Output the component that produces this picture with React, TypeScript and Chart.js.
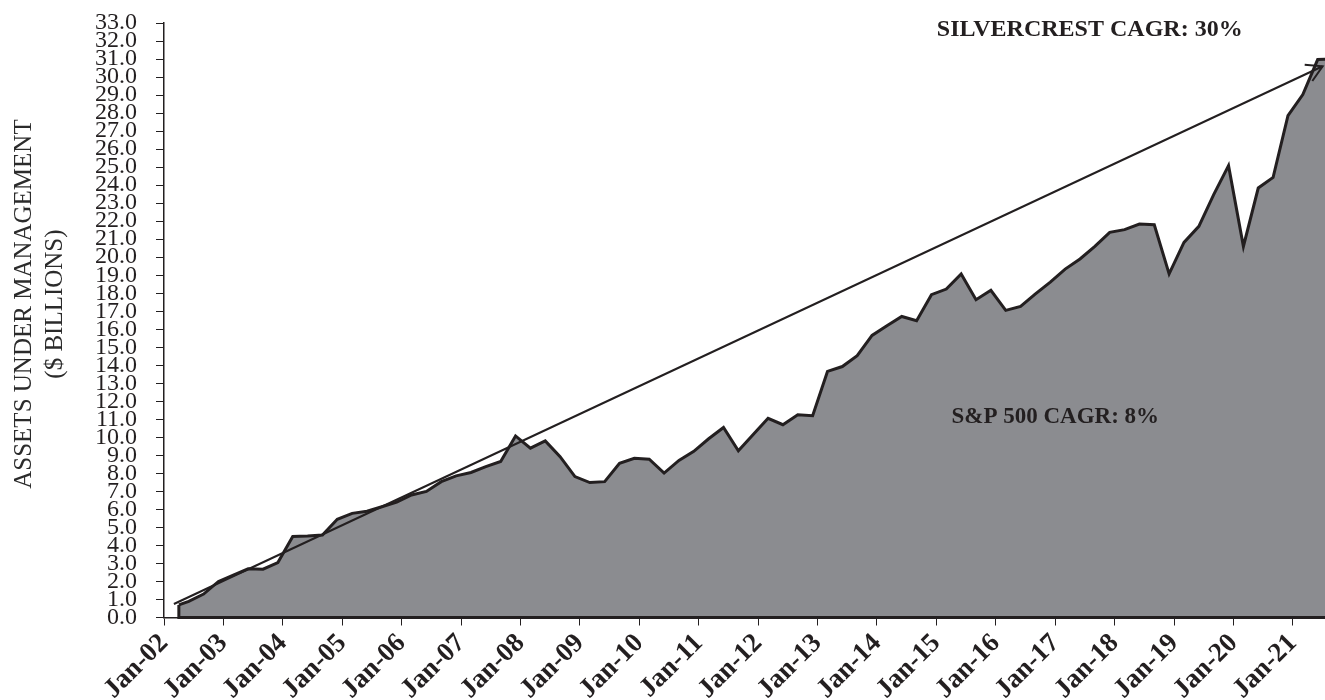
import React, { useEffect, useRef } from "react";
import { Chart, registerables } from "chart.js";

Chart.register(...registerables);

// Quarter-end observations (plotted at month position on a date axis)
const QUARTERS = [
  "2002-04", "2002-06", "2002-09", "2002-12",
  "2003-03", "2003-06", "2003-09", "2003-12",
  "2004-03", "2004-06", "2004-09", "2004-12",
  "2005-03", "2005-06", "2005-09", "2005-12",
  "2006-03", "2006-06", "2006-09", "2006-12",
  "2007-03", "2007-06", "2007-09", "2007-12",
  "2008-03", "2008-06", "2008-09", "2008-12",
  "2009-03", "2009-06", "2009-09", "2009-12",
  "2010-03", "2010-06", "2010-09", "2010-12",
  "2011-03", "2011-06", "2011-09", "2011-12",
  "2012-03", "2012-06", "2012-09", "2012-12",
  "2013-03", "2013-06", "2013-09", "2013-12",
  "2014-03", "2014-06", "2014-09", "2014-12",
  "2015-03", "2015-06", "2015-09", "2015-12",
  "2016-03", "2016-06", "2016-09", "2016-12",
  "2017-03", "2017-06", "2017-09", "2017-12",
  "2018-03", "2018-06", "2018-09", "2018-12",
  "2019-03", "2019-06", "2019-09", "2019-12",
  "2020-03", "2020-06", "2020-09", "2020-12",
  "2021-03", "2021-06", "2021-09",
];

// Assets under management, $ billions
const AUM = [
  0.7, 0.9, 1.3, 2.0,
  2.35, 2.7, 2.68, 3.05,
  4.5, 4.52, 4.58, 5.45,
  5.78, 5.9, 6.15, 6.4,
  6.8, 7.0, 7.54, 7.86,
  8.05, 8.38, 8.66, 10.08,
  9.4, 9.8, 8.93, 7.82,
  7.49, 7.54, 8.56, 8.84,
  8.79, 8.02, 8.72, 9.22,
  9.92, 10.55, 9.25, 10.16,
  11.06, 10.7, 11.25, 11.2,
  13.66, 13.93, 14.53, 15.66,
  16.2, 16.71, 16.47, 17.92,
  18.23, 19.07, 17.64, 18.16,
  17.05, 17.27, 17.96, 18.62,
  19.34, 19.9, 20.6, 21.38,
  21.53, 21.84, 21.8, 19.07,
  20.82, 21.71, 23.47, 25.08,
  20.6, 23.84, 24.43, 27.86,
  29.03, 30.97, 31.0,
];

// Silvercrest CAGR trend arrow (start / end)
const TREND_DATES = ["2002-03", "2021-07"];
const TREND_VALUES = [0.75, 30.6];

const X_TICK_LABELS = [
  "Jan-02", "Jan-03", "Jan-04", "Jan-05", "Jan-06", "Jan-07", "Jan-08",
  "Jan-09", "Jan-10", "Jan-11", "Jan-12", "Jan-13", "Jan-14", "Jan-15",
  "Jan-16", "Jan-17", "Jan-18", "Jan-19", "Jan-20", "Jan-21",
];

const Y_MIN = 0;
const Y_MAX = 33;
const Y_STEP = 1;

const TITLE_LINES = ["ASSETS UNDER MANAGEMENT", "($ BILLIONS)"];
const NOTE_SILVERCREST = "SILVERCREST CAGR: 30%";
const NOTE_SP500 = "S&P 500 CAGR: 8%";

const toYears = (d: string) => {
  const [y, m] = d.split("-").map(Number);
  return y - 2002 + (m - 1) / 12;
};

export default function App() {
  const ref = useRef<HTMLCanvasElement>(null);

  useEffect(() => {
    const canvas = ref.current;
    if (!canvas) return;
    const ink = "#231f20";
    const serif = "'Liberation Serif', 'Times New Roman', serif";

    const edgePlugin = {
      id: "areaEdge",
      afterDatasetDraw(chart: any, args: any) {
        if (args.index !== 0) return;
        const p = args.meta.data[0];
        const { ctx, chartArea } = chart;
        const y0 = chart.scales.y.getPixelForValue(0);
        ctx.save();
        ctx.strokeStyle = ink;
        ctx.lineWidth = 3;
        ctx.beginPath();
        ctx.moveTo(p.x, p.y);
        ctx.lineTo(p.x, y0);
        ctx.lineTo(chartArea.right, y0);
        ctx.stroke();
        ctx.restore();
      },
    };

    const arrowPlugin = {
      id: "trendArrow",
      afterDatasetsDraw(chart: any) {
        const pts = chart.getDatasetMeta(1).data;
        const a = pts[pts.length - 2];
        const b = pts[pts.length - 1];
        const ang = Math.atan2(b.y - a.y, b.x - a.x);
        const len = 18;
        const spread = Math.PI / 6;
        const { ctx } = chart;
        ctx.save();
        ctx.strokeStyle = ink;
        ctx.lineWidth = 2;
        ctx.beginPath();
        ctx.moveTo(b.x - len * Math.cos(ang - spread), b.y - len * Math.sin(ang - spread));
        ctx.lineTo(b.x, b.y);
        ctx.lineTo(b.x - len * Math.cos(ang + spread), b.y - len * Math.sin(ang + spread));
        ctx.stroke();
        ctx.restore();
      },
    };

    const textPlugin = {
      id: "texts",
      afterDraw(chart: any) {
        const { ctx } = chart;
        const xs = chart.scales.x;
        const ys = chart.scales.y;
        ctx.save();
        ctx.fillStyle = ink;
        ctx.textAlign = "center";
        ctx.textBaseline = "middle";
        ctx.font = `bold 24px ${serif}`;
        ctx.fillText(NOTE_SILVERCREST, xs.getPixelForValue(15.58), ys.getPixelForValue(32.6));
        ctx.font = `bold 23px ${serif}`;
        ctx.fillText(NOTE_SP500, xs.getPixelForValue(15.0), ys.getPixelForValue(11.15));
        ctx.font = `25px ${serif}`;
        ctx.fillStyle = "#2b2b2b";
        const cy = ys.getPixelForValue(17.4);
        [24, 55].forEach((x, i) => {
          ctx.save();
          ctx.translate(x, cy);
          ctx.rotate(-Math.PI / 2);
          ctx.fillText(TITLE_LINES[i], 0, 0);
          ctx.restore();
        });
        ctx.restore();
      },
    };

    const chart = new Chart(canvas, {
      type: "line",
      data: {
        datasets: [
          {
            data: QUARTERS.map((d, i) => ({ x: toYears(d), y: AUM[i] })),
            fill: "origin",
            backgroundColor: "#8b8c90",
            borderColor: ink,
            borderWidth: 3,
            pointRadius: 0,
            tension: 0,
            order: 1,
          },
          {
            data: TREND_DATES.map((d, i) => ({ x: toYears(d), y: TREND_VALUES[i] })),
            fill: false,
            borderColor: ink,
            borderWidth: 2,
            pointRadius: 0,
            tension: 0,
            order: 0,
          },
        ],
      },
      options: {
        animation: false,
        responsive: false,
        layout: { padding: { top: 23, left: 0, right: 0, bottom: 0 } },
        plugins: { legend: { display: false }, tooltip: { enabled: false } },
        scales: {
          x: {
            type: "linear",
            min: 0,
            max: 19.54,
            afterBuildTicks: (s: any) => {
              s.ticks = X_TICK_LABELS.map((_, i) => ({ value: i }));
            },
            afterFit: (s: any) => {
              s.height = 82.5;
              s.paddingLeft = 0;
              s.paddingRight = 0;
            },
            grid: { display: true, drawOnChartArea: false, drawTicks: true, tickLength: 8, color: ink, lineWidth: 1 },
            border: { display: true, color: ink, width: 1.5 },
            ticks: {
              autoSkip: false,
              maxRotation: 45,
              minRotation: 45,
              padding: 2,
              color: ink,
              font: { family: serif, size: 27, weight: "bold" },
              callback: (_v: any, i: number) => X_TICK_LABELS[i],
            },
          },
          y: {
            min: Y_MIN,
            max: Y_MAX,
            afterFit: (s: any) => {
              s.width = 164;
              s.paddingTop = 0;
              s.paddingBottom = 0;
            },
            grid: { display: true, drawOnChartArea: false, drawTicks: true, tickLength: 8, color: ink, lineWidth: 1 },
            border: { display: true, color: ink, width: 1.5 },
            ticks: {
              stepSize: Y_STEP,
              autoSkip: false,
              padding: 19,
              color: ink,
              font: { family: serif, size: 24 },
              callback: (v: any) => Number(v).toFixed(1),
            },
          },
        },
      },
      plugins: [edgePlugin, arrowPlugin, textPlugin],
    } as any);

    return () => chart.destroy();
  }, []);

  return (
    <div style={{ position: "absolute", left: 0, top: 0, width: 1325, height: 700, background: "#fff" }}>
      <canvas ref={ref} width={1325} height={700} style={{ display: "block" }} />
    </div>
  );
}
